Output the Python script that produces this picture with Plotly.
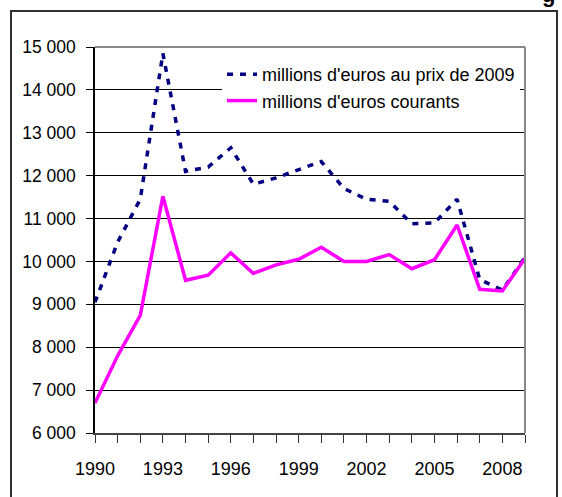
import plotly.graph_objects as go

years = list(range(1990, 2010))
const_2009 = [9050, 10450, 11450, 14850, 12100, 12200, 12650, 11800, 11950, 12150,
              12330, 11700, 11450, 11400, 10880, 10900, 11450, 9580, 9330, 10100]
current = [6700, 7800, 8740, 11520, 9560, 9680, 10200, 9720, 9920, 10050,
           10330, 10000, 10000, 10160, 9830, 10040, 10850, 9350, 9310, 10070]
series_names = ["millions d'euros au prix de 2009", "millions d'euros courants"]

FONT = "Liberation Sans, Arial, sans-serif"

# plot-area pixel geometry
L, R, T, B = 95, 525, 47, 433
W, H = R - L, B - T
def px(x):
    return (x - L) / W
def py(y):
    return (B - y) / H

fig = go.Figure()
fig.add_trace(go.Scatter(x=years, y=const_2009, mode="lines", name=series_names[0],
                         line=dict(color="#000080", width=3.5, dash="6px,7px")))
fig.add_trace(go.Scatter(x=years, y=current, mode="lines", name=series_names[1],
                         line=dict(color="#FF00FF", width=3.5)))

fig.update_layout(
    width=562, height=497,
    margin=dict(l=L, r=562 - R, t=T, b=497 - B),
    paper_bgcolor="white", plot_bgcolor="white",
    separators=", ",
    font=dict(family=FONT, size=17.5, color="black"),
    showlegend=True,
    legend=dict(x=px(222), y=py(56), xanchor="left", yanchor="top",
                bgcolor="white", borderwidth=0,
                font=dict(family=FONT, size=18, color="black"),
                tracegroupgap=0, itemwidth=30),
    xaxis=dict(range=[1990, 2009], tick0=1990, dtick=3, ticks="outside", ticklen=8,
               tickcolor="#333", showgrid=False, zeroline=False,
               showline=True, linecolor="#444", linewidth=2,
               ticklabelstandoff=10,
               minor=dict(dtick=1, ticks="outside", ticklen=8, tickcolor="#333", showgrid=False),
               tickfont=dict(family=FONT, size=18, color="black")),
    yaxis=dict(range=[6000, 15000], dtick=1000, tickformat=",", ticks="outside", ticklen=7,
               tickcolor="black", showgrid=True, gridcolor="black", gridwidth=1,
               zeroline=False, showline=True, linecolor="black", linewidth=1.5,
               ticklabelstandoff=7,
               tickfont=dict(family=FONT, size=17.5, color="black")),
    shapes=[
        dict(type="line", xref="paper", yref="paper", x0=0, x1=1, y0=1, y1=1,
             line=dict(color="#888", width=2), layer="above"),
        dict(type="line", xref="paper", yref="paper", x0=1, x1=1, y0=0, y1=1,
             line=dict(color="#888", width=2), layer="above"),
        dict(type="rect", xref="paper", yref="paper", x0=px(11), x1=px(557),
             y0=py(520), y1=py(11), line=dict(color="#333", width=2), layer="below"),
    ],
    annotations=[
        dict(text="<b>g</b>", xref="paper", yref="paper", x=px(548), y=py(9),
             xanchor="center", yanchor="bottom", showarrow=False,
             font=dict(family="Liberation Sans, Arial", size=22, color="black")),
    ],
)

fig.write_html("out.html")
